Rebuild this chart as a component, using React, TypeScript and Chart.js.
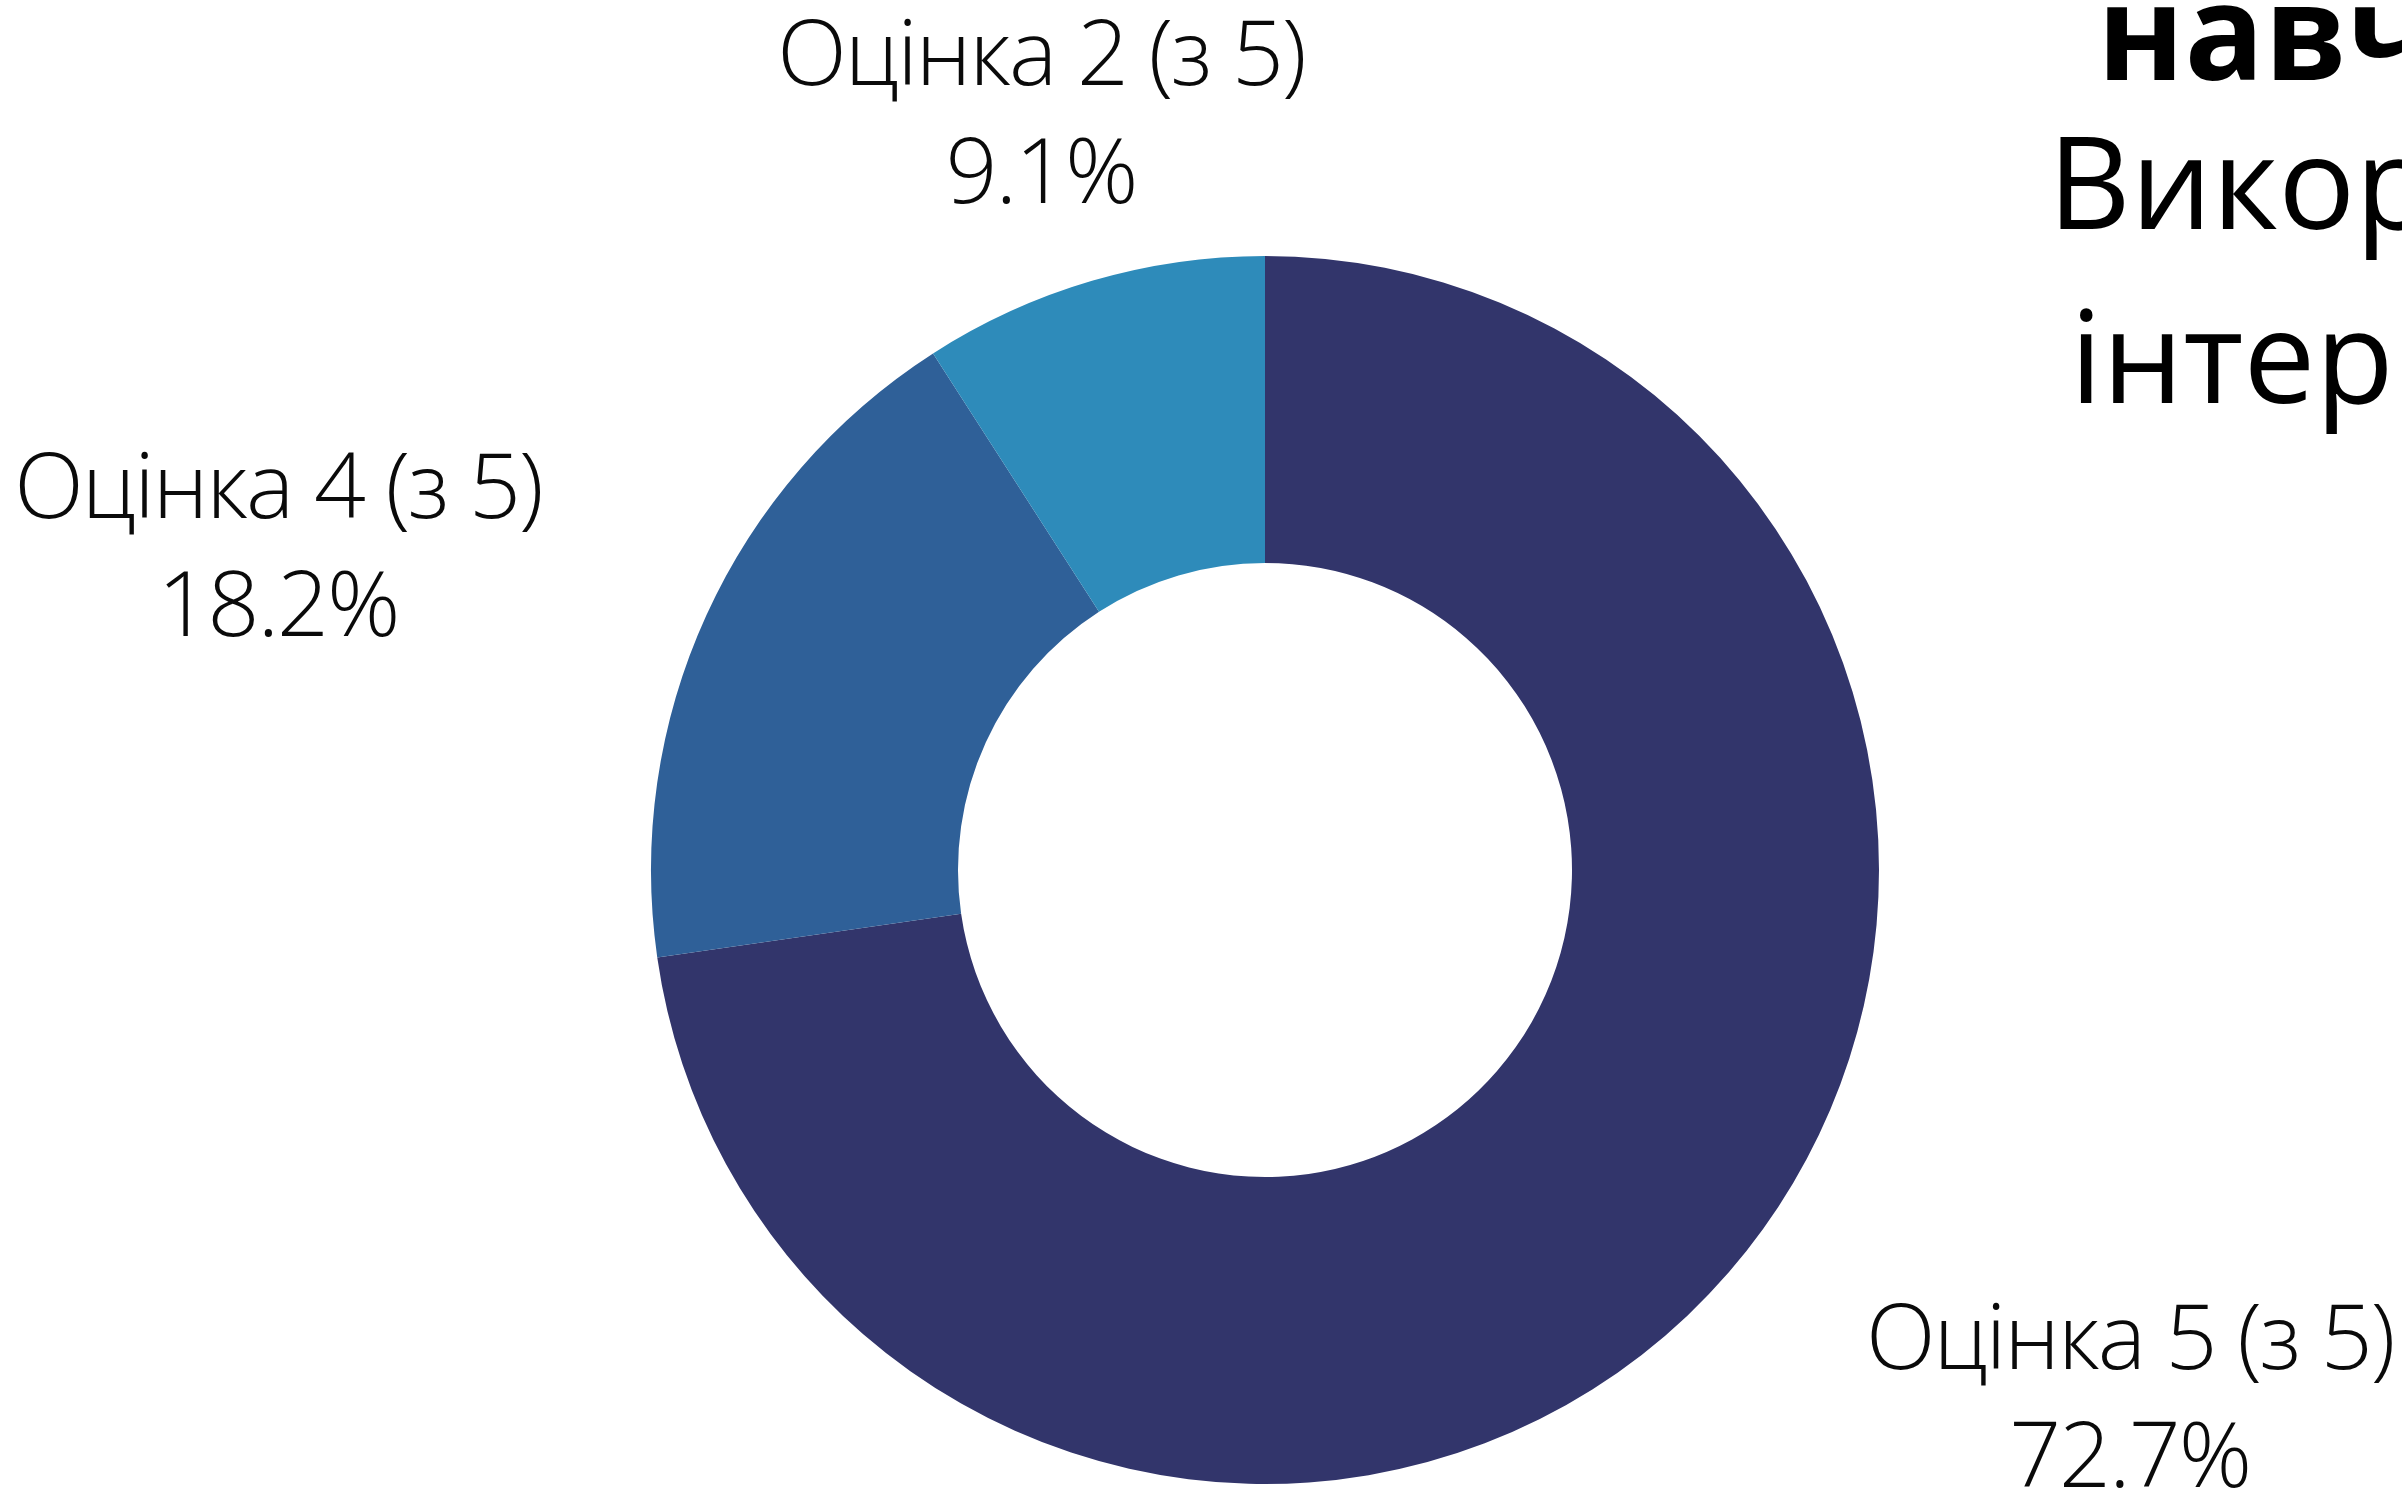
import React, { useEffect, useRef } from "react";
import { Chart, registerables } from "chart.js";

Chart.register(...registerables);

const categories = ["Оцінка 5 (з 5)", "Оцінка 4 (з 5)", "Оцінка 2 (з 5)"];
const values = [8, 2, 1];
const colors = ["#32356b", "#2f6098", "#2e8bba"];
const titleBold = "навчання";
const titleLines = ["Використання", "інтернету"];

const W = 2402;
const H = 1491;

const labelPlugin = {
  id: "outerLabels",
  afterDatasetsDraw(chart: any) {
    const ctx = chart.ctx as CanvasRenderingContext2D;
    const meta = chart.getDatasetMeta(0);
    const total = values.reduce((a, b) => a + b, 0);
    ctx.save();
    ctx.font = "300 91px 'Open Sans'";
    (ctx as any).letterSpacing = "-2px";
    ctx.fillStyle = "#0a0a0a";
    ctx.textBaseline = "alphabetic";
    ctx.textAlign = "center";
    meta.data.forEach((arc: any, i: number) => {
      const { x, y, startAngle, endAngle, outerRadius } = arc.getProps(
        ["x", "y", "startAngle", "endAngle", "outerRadius"],
        true
      );
      const mid = (startAngle + endAngle) / 2;
      const R = outerRadius * 1.295;
      const ax = x + Math.cos(mid) * R;
      const ay = y + Math.sin(mid) * R;
      const lines = [categories[i], ((values[i] / total) * 100).toFixed(1) + "%"];
      const w = Math.max(...lines.map((l) => ctx.measureText(l).width));
      const c = Math.cos(mid);
      let cx = ax;
      if (c < -0.5) cx = ax - w / 2;
      else if (c > 0.5) cx = ax + w / 2;
      const lh = 118;
      const cy = ay + 4;
      lines.forEach((l, j) => {
        ctx.fillText(l, cx, cy + (j - (lines.length - 1) / 2) * lh + 33);
      });
    });
    ctx.restore();
  },
};

const titlePlugin = {
  id: "sideTitle",
  afterDraw(chart: any) {
    const ctx = chart.ctx as CanvasRenderingContext2D;
    ctx.save();
    ctx.fillStyle = "#000";
    ctx.textAlign = "left";
    ctx.textBaseline = "alphabetic";
    ctx.font = "700 132px 'Open Sans'";
    let m = ctx.measureText(titleBold);
    ctx.fillText(titleBold, 2107 + m.actualBoundingBoxLeft, 80);
    ctx.font = "400 128px 'Open Sans'";
    const starts = [2060, 2080];
    const bases = [229, 403];
    titleLines.forEach((t, i) => {
      m = ctx.measureText(t);
      ctx.fillText(t, starts[i] + m.actualBoundingBoxLeft, bases[i]);
    });
    ctx.restore();
  },
};

export default function App() {
  const ref = useRef<HTMLCanvasElement>(null);
  useEffect(() => {
    document.body.style.margin = "0";
    document.body.style.background = "#fff";
    if (!ref.current) return;
    const chart = new Chart(ref.current, {
      type: "doughnut",
      data: {
        labels: categories,
        datasets: [
          {
            data: values,
            backgroundColor: colors,
            borderWidth: 0,
            hoverOffset: 0,
          },
        ],
      },
      options: {
        responsive: false,
        animation: false,
        cutout: "50%",
        layout: { padding: { left: 651, right: 523, top: 256, bottom: 7 } },
        plugins: {
          legend: { display: false },
          tooltip: { enabled: false },
          title: { display: false },
        },
      },
      plugins: [labelPlugin, titlePlugin],
    });
    return () => chart.destroy();
  }, []);
  return (
    <div style={{ width: W, height: H, background: "#fff" }}>
      <canvas ref={ref} width={W} height={H} style={{ display: "block" }} />
    </div>
  );
}
